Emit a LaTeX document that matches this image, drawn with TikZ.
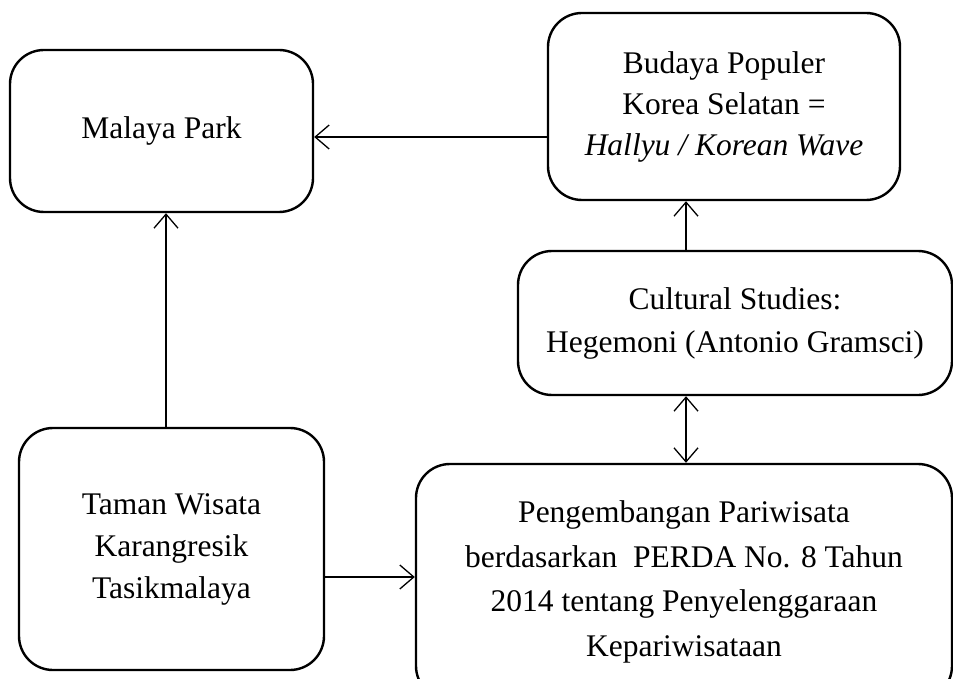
\documentclass[tikz,border=0pt]{standalone}
\usepackage{fontspec}
\setmainfont{Liberation Serif}
\usetikzlibrary{arrows.meta,calc}
\begin{document}
\begin{tikzpicture}[x=1pt,y=-1pt,
  box/.style={draw, line width=2.4pt, rounded corners=34pt, align=center, inner sep=0pt,
    font=\fontsize{31.5}{43}\selectfont},
  arr/.style={line width=1.3pt, -{Straight Barb[length=14pt,width=24pt,line width=1.3pt]}},
  darr/.style={line width=1.3pt, {Straight Barb[length=14pt,width=24pt,line width=1.3pt]}-{Straight Barb[length=14pt,width=24pt,line width=1.3pt]}}]
\useasboundingbox (0,0) rectangle (953,679);
\node[box, minimum width=303pt, minimum height=162pt] (mal) at (161.5,131) {Malaya Park};
\node[box, minimum width=352pt, minimum height=187pt, font=\fontsize{31.5}{41}\selectfont] (bud) at (724,106.5) {Budaya Populer\\Korea Selatan =\\\textit{Hallyu / Korean Wave}};
\node[box, minimum width=434pt, minimum height=144pt] (cul) at (735,323) {Cultural Studies:\\Hegemoni (Antonio Gramsci)};
\node[box, minimum width=305pt, minimum height=242pt, font=\fontsize{31.5}{42}\selectfont] (tam) at (171.5,549) {Taman Wisata\\Karangresik\\Tasikmalaya};
\node[box, minimum width=536pt, minimum height=236pt, font=\fontsize{31.5}{44.5}\selectfont] (peng) at (684,582) {Pengembangan Pariwisata\\berdasarkan\ \ PERDA No. 8 Tahun\\2014 tentang Penyelenggaraan\\Kepariwisataan};
\coordinate (ax) at (686,0);
\coordinate (ax2) at (166,0);
\coordinate (ay1) at (0,137);
\coordinate (ay2) at (0,577);
\draw[arr] (bud.west |- ay1) -- (mal.east |- ay1);
\draw[arr] (tam.north -| ax2) -- (mal.south -| ax2);
\draw[arr] (cul.north -| ax) -- (bud.south -| ax);
\draw[darr] (cul.south -| ax) -- (peng.north -| ax);
\draw[arr] (tam.east |- ay2) -- (peng.west |- ay2);
\end{tikzpicture}
\end{document}
